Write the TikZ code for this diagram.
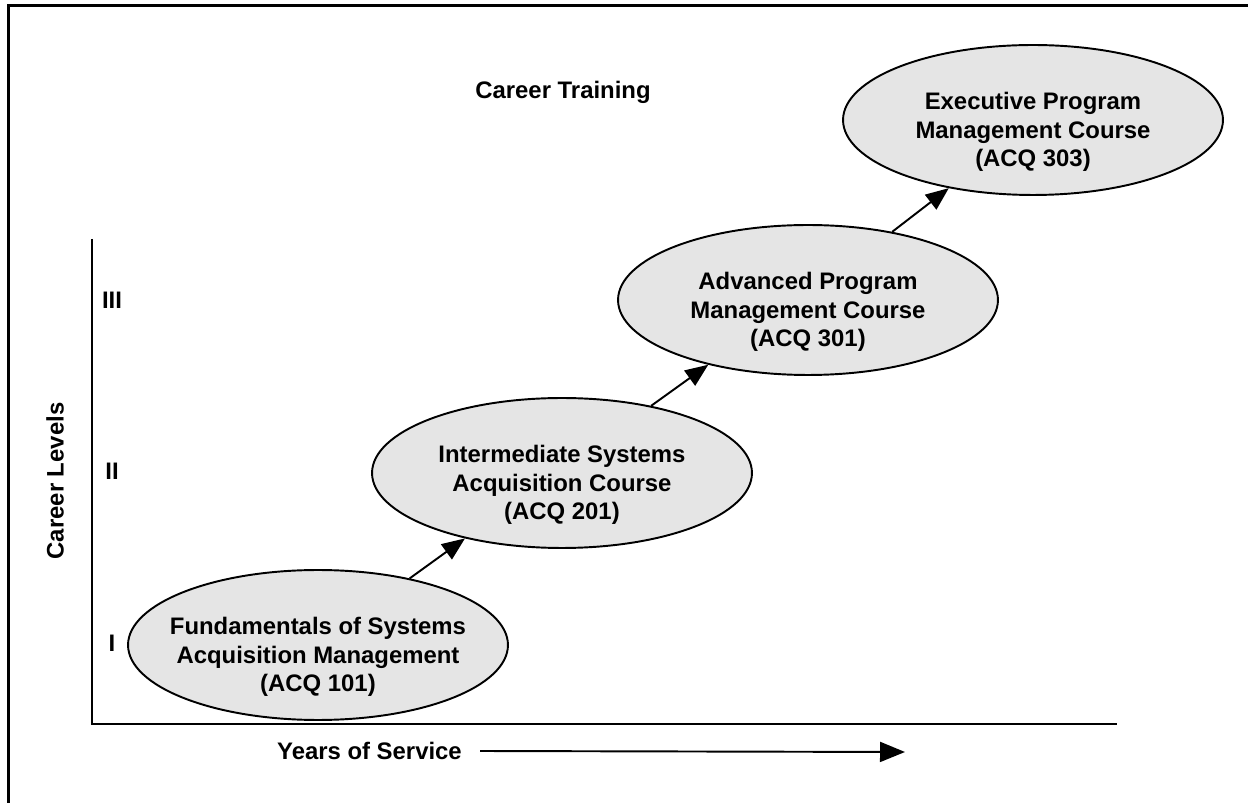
\documentclass[tikz,border=0pt]{standalone}
\usepackage{fontspec}
\setmainfont{Liberation Sans}
\usetikzlibrary{shapes.geometric, arrows.meta}

\definecolor{ovalgray}{RGB}{229,229,229}

\tikzset{
    courseoval/.style={draw, ellipse, fill=ovalgray, line width=1.1pt,
        minimum width=7.6cm, minimum height=3cm, inner sep=0pt},
    coursetext/.style={align=center},
    steparrow/.style={line width=1.1pt, -{Triangle[length=0.46cm, width=0.37cm]}},
    axisline/.style={line width=1.6pt},
}

\newcommand{\courseOval}[4]{%
    \node[courseoval] (#1) at (#2,#3) {};
    \node[coursetext] (#1text) at (#2,#3+12) {#4};
}

\begin{document}
\begin{tikzpicture}[x=0.02cm, y=-0.02cm, font=\fontsize{13.6}{16.3}\selectfont\bfseries]
    \useasboundingbox (0,0) rectangle (1248,803);

    % --- frame ---
    \draw[line width=1.7pt] (8.5,6) rectangle (1270,830);

    % --- axes ---
    \coordinate (ytop) at (92,239);
    \coordinate (origin) at (92,724);
    \coordinate (xend) at (1117,724);
    \draw[axisline] (ytop) -- (origin) -- (xend);

    \node (title) at (563,92) {Career Training};

    \node (lvlIII) at (112,300) {III};
    \node (lvlII) at (112,471) {II};
    \node (lvlI) at (112,643) {I};
    \node[rotate=90] (levels) at (55,481) {Career Levels};

    \node[anchor=east] (years) at (468,751) {Years of Service};
    \coordinate (yearsEnd) at (905,752);
    \draw[steparrow, -{Triangle[length=0.5cm, width=0.4cm]}] ([xshift=0.24cm]years.east) -- (yearsEnd);

    % --- courses ---
    \courseOval{fsam}{318}{645}{Fundamentals of Systems\\Acquisition Management\\(ACQ 101)}
    \courseOval{isac}{562}{473}{Intermediate Systems\\Acquisition Course\\(ACQ 201)}
    \courseOval{apmc}{808}{300}{Advanced Program\\Management Course\\(ACQ 301)}
    \courseOval{epmc}{1033}{120}{Executive Program\\Management Course\\(ACQ 303)}

    % --- steps ---
    \draw[steparrow] (fsam.36) -- (isac.214);
    \draw[steparrow] (isac.37) -- (apmc.213);
    \draw[steparrow] (apmc.39) -- (epmc.219);

\end{tikzpicture}
\end{document}
